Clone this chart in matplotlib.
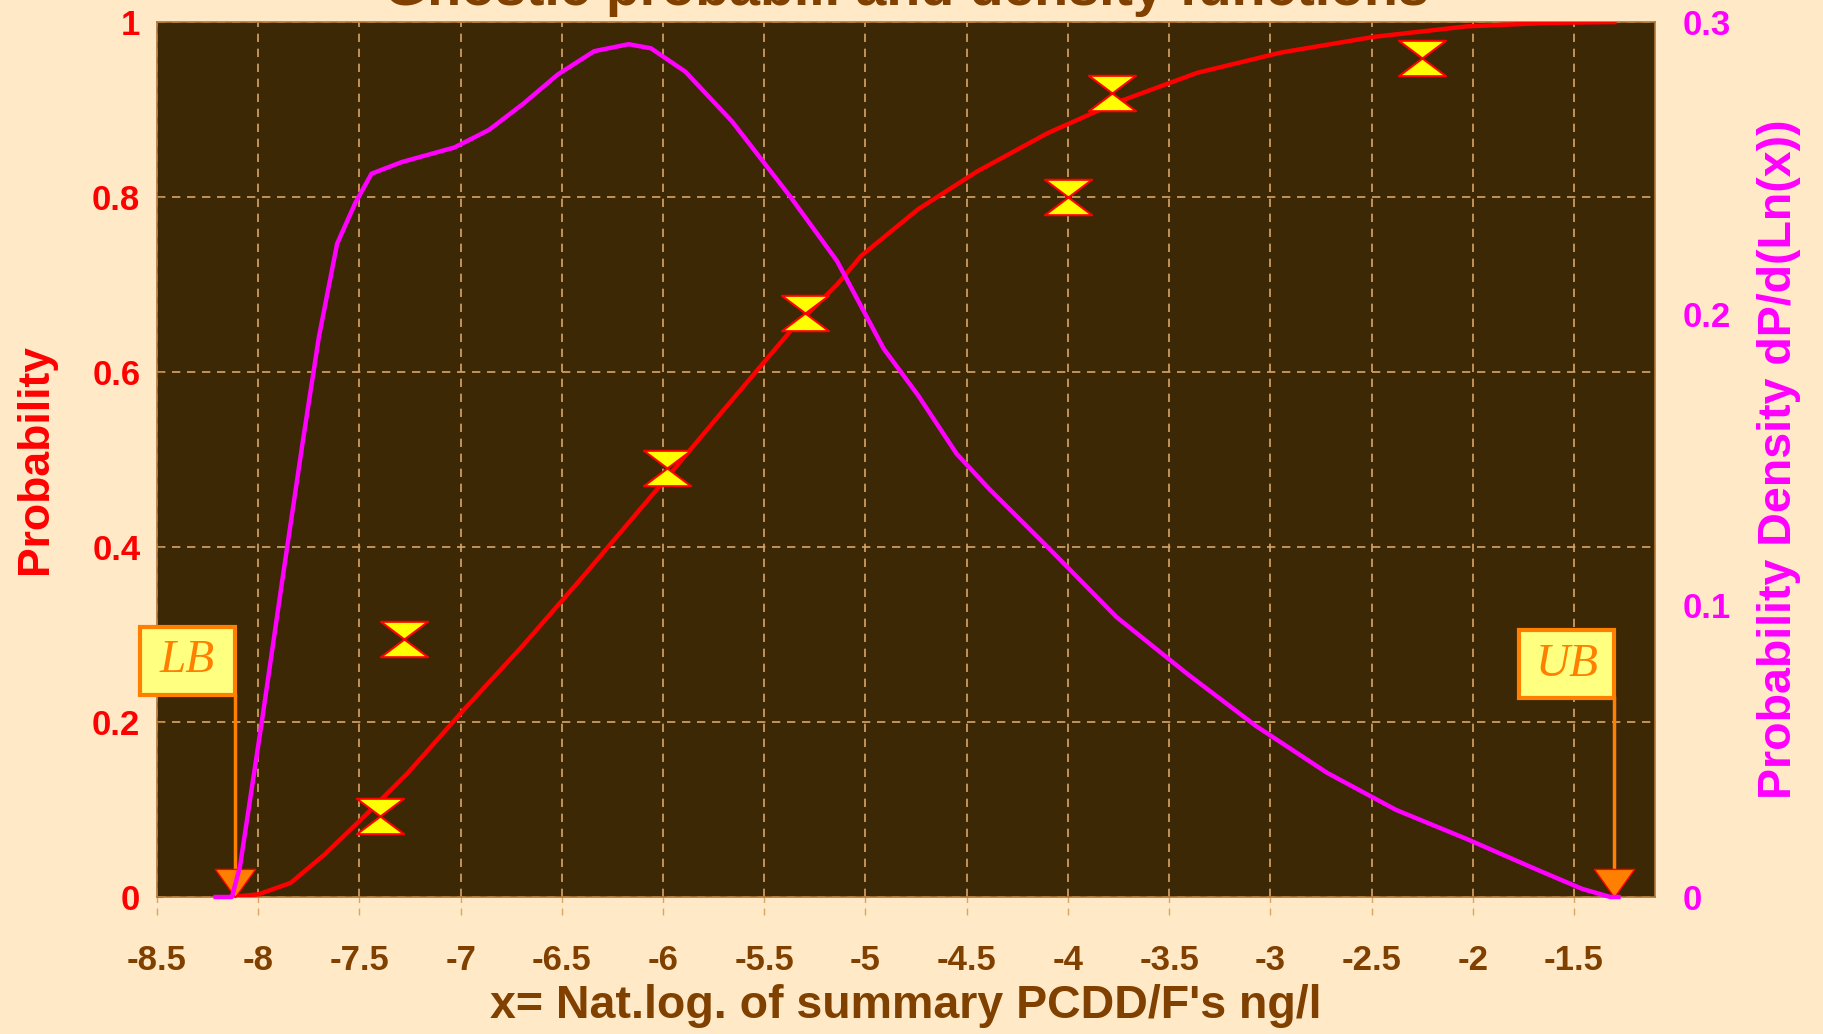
import matplotlib
matplotlib.use("Agg")
import matplotlib.pyplot as plt
from matplotlib.path import Path
from matplotlib.patches import Rectangle
from matplotlib.transforms import offset_copy

plt.rcParams['font.family'] = ['Liberation Sans', 'DejaVu Sans']

# gnostic distribution function (left axis)
cdf_x = [-8.14, -8.0, -7.84, -7.67, -7.49, -7.26, -6.98, -6.69, -6.40, -6.0, -5.71,
         -5.37, -5.14, -5.02, -4.74, -4.45, -4.10, -3.76, -3.36, -2.95, -2.49,
         -2.03, -1.63, -1.30]
cdf_y = [0.0, 0.003, 0.016, 0.049, 0.089, 0.142, 0.215, 0.288, 0.365, 0.474, 0.554,
         0.647, 0.700, 0.733, 0.786, 0.829, 0.873, 0.908, 0.942, 0.965, 0.983,
         0.995, 0.999, 1.0]

# density (right axis)
den_x = [-8.21, -8.13, -8.09, -7.98, -7.88, -7.78, -7.70, -7.61, -7.52, -7.44, -7.29,
         -7.03, -6.86, -6.69, -6.52, -6.34, -6.17, -6.06, -5.89, -5.66, -5.37,
         -5.14, -4.91, -4.74, -4.55, -4.39, -4.10, -3.76, -3.41, -3.07, -2.72, -2.38,
         -2.03, -1.69, -1.46, -1.32, -1.28]
den_y = [0.0, 0.0, 0.0104, 0.061, 0.109, 0.156, 0.192, 0.224, 0.238, 0.248, 0.252,
         0.257, 0.263, 0.272, 0.282, 0.290, 0.2924, 0.291, 0.283, 0.266, 0.240,
         0.218, 0.188, 0.172, 0.152, 0.140, 0.120, 0.096, 0.0765, 0.0586, 0.0426, 0.0299,
         0.0199, 0.0096, 0.0028, 0.0, 0.0]

# empirical points
pts_x = [-7.40, -7.28, -5.98, -5.30, -4.0, -3.78, -2.25]
pts_y = [0.092, 0.295, 0.490, 0.667, 0.80, 0.919, 0.959]

lb_x, ub_x = -8.115, -1.30

xticks = [-8.5, -8, -7.5, -7, -6.5, -6, -5.5, -5, -4.5, -4, -3.5, -3, -2.5, -2, -1.5]
yticks = [0, 0.2, 0.4, 0.6, 0.8, 1]
rticks = [0, 0.1, 0.2, 0.3]

bg = '#FFE9C7'
plotbg = '#3C2804'
brown = '#804000'
grid_c = '#D9A566'
orange = '#FF8000'

fig = plt.figure(figsize=(18.23, 10.34), dpi=100, facecolor=bg)
ax = fig.add_axes([0.0861, 0.1325, 0.8217, 0.8462])
ax.set_facecolor(plotbg)
ax.set_xlim(-8.5, -1.1)
ax.set_ylim(0, 1)
for s in ax.spines.values():
    s.set_color('#B07838')
    s.set_linewidth(1.2)

ax.set_xticks(xticks)
ax.set_xticklabels([('%g' % v) for v in xticks])
ax.set_yticks(yticks)
ax.set_yticklabels([('%g' % v) for v in yticks])
ax.grid(True, color=grid_c, linestyle=(0, (5, 4)), linewidth=1.2)
ax.tick_params(axis='x', length=0, pad=34, labelsize=25, labelcolor=brown)
ax.tick_params(axis='y', length=4, direction='in', right=True, color='#B07838',
               pad=12, labelsize=25, labelcolor='red')
for lab in ax.get_xticklabels() + ax.get_yticklabels():
    lab.set_fontweight('bold')

# short dashed lines under the axis at x ticks
ax.vlines(xticks, -0.021, 0, transform=ax.get_xaxis_transform(), colors=grid_c,
          linestyles=(0, (5, 4)), linewidth=1.0, clip_on=False)

ax2 = ax.twinx()
ax2.set_ylim(0, 0.3)
ax2.set_yticks(rticks)
ax2.set_yticklabels([('%g' % v) for v in rticks])
ax2.tick_params(axis='y', length=0, pad=20, labelsize=25, labelcolor='#FF00FF')
for lab in ax2.get_yticklabels():
    lab.set_fontweight('bold')
for s in ax2.spines.values():
    s.set_visible(False)

ax2.plot(den_x, den_y, color='#FF00FF', lw=3.2, clip_on=False, zorder=3)
ax.plot(cdf_x, cdf_y, color='red', lw=3.2, zorder=4)

hg = Path([(-1, 0.75), (1, 0.75), (0, 0), (1, -0.75), (-1, -0.75), (0, 0), (-1, 0.75)],
          [Path.MOVETO, Path.LINETO, Path.LINETO, Path.LINETO, Path.LINETO, Path.LINETO,
           Path.CLOSEPOLY])
ax.plot(pts_x, pts_y, linestyle='none', marker=hg, markersize=34,
        markerfacecolor='yellow', markeredgecolor='red', markeredgewidth=1.5, zorder=5)

# LB / UB flags: box whose lower right corner carries the arrow
tri = Path([(0, -0.7), (-1, 0.7), (1, 0.7), (0, -0.7)],
           [Path.MOVETO, Path.LINETO, Path.LINETO, Path.CLOSEPOLY])
head_tr = offset_copy(ax.transData, fig=fig, y=14, units='dots')
box_w, box_h = 0.47, 0.078
for bx, by, txt in [(lb_x, 0.231, 'LB'), (ub_x, 0.227, 'UB')]:
    ax.plot([bx, bx], [by, 0.02], color=orange, lw=2.5, zorder=6, clip_on=False)
    ax.plot([bx], [0], marker=tri, markersize=29, color=orange, markeredgecolor='red',
            markeredgewidth=1, transform=head_tr, zorder=7, clip_on=False)
    ax.add_patch(Rectangle((bx - box_w, by), box_w, box_h, facecolor='#FFFF80',
                           edgecolor=orange, linewidth=3, zorder=8, clip_on=False))
    ax.text(bx - box_w / 2, by + box_h / 2, txt, family='Liberation Serif',
            style='italic', fontsize=34, color=orange, ha='center', va='center',
            zorder=9, clip_on=False)

# title is cut by the top edge, as in the original
fig.text(0.497, 0.995, "Gnostic probabil. and density functions", ha='center',
         va='baseline', fontsize=40, fontweight='bold', color=brown)
fig.text(0.497, 0.027, "x= Nat.log. of summary PCDD/F's ng/l", ha='center',
         va='center', fontsize=33.5, fontweight='bold', color=brown)
fig.text(0.0192, 0.556, "Probability", rotation=90, ha='center', va='center',
         fontsize=32, fontweight='bold', color='red')
fig.text(0.976, 0.556, "Probability Density dP/d(Ln(x))", rotation=90, ha='center',
         va='center', fontsize=33.5, fontweight='bold', color='#FF00FF')

fig.savefig('out.png', dpi=100, facecolor=bg)
